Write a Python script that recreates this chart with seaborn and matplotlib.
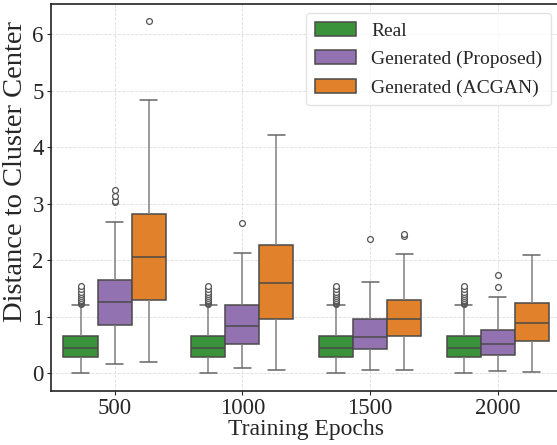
import numpy as np
import pandas as pd
import matplotlib
matplotlib.use("Agg")
import matplotlib.pyplot as plt
import seaborn as sns

epochs = ["500", "1000", "1500", "2000"]
groups = ["Real", "Generated (Proposed)", "Generated (ACGAN)"]
palette = ["#2ca02c", "#9467bd", "#ff7f0e"]

# box summaries: [whisker low, q1, median, q3, whisker high]
real_stats = [
    [0.00, 0.29, 0.445, 0.655, 1.20],
    [0.00, 0.29, 0.445, 0.655, 1.20],
    [0.00, 0.29, 0.445, 0.655, 1.20],
    [0.00, 0.29, 0.445, 0.655, 1.20],
]
proposed_stats = [
    [0.17, 0.854, 1.26, 1.65, 2.67],
    [0.088, 0.518, 0.83, 1.20, 2.13],
    [0.053, 0.435, 0.647, 0.955, 1.61],
    [0.047, 0.318, 0.524, 0.76, 1.344],
]
acgan_stats = [
    [0.19, 1.30, 2.06, 2.81, 4.83],
    [0.053, 0.96, 1.59, 2.27, 4.22],
    [0.058, 0.665, 0.955, 1.29, 2.115],
    [0.018, 0.566, 0.884, 1.238, 2.09],
]
# outliers
real_outliers = [
    [1.22, 1.24, 1.26, 1.28, 1.30, 1.33, 1.36, 1.40, 1.44, 1.49, 1.55],
    [1.22, 1.24, 1.26, 1.28, 1.30, 1.33, 1.36, 1.40, 1.44, 1.49, 1.55],
    [1.22, 1.24, 1.26, 1.28, 1.30, 1.33, 1.36, 1.40, 1.44, 1.49, 1.55],
    [1.22, 1.24, 1.26, 1.28, 1.30, 1.33, 1.36, 1.40, 1.44, 1.49, 1.55],
]
proposed_outliers = [
    [3.02, 3.05, 3.14, 3.24],
    [2.66],
    [2.37],
    [1.53, 1.74],
]
acgan_outliers = [
    [6.23],
    [],
    [2.43, 2.46],
    [],
]


def samples(stats, outliers):
    """Values whose quartiles / whiskers / fliers reproduce the read summary."""
    lo, q1, med, q3, hi = stats
    k = len(outliers) + 1
    return [lo] * k + [q1] * k + [med] * k + [q3] + [hi] + list(outliers)


rows = []
for g, st, out in zip(groups,
                      [real_stats, proposed_stats, acgan_stats],
                      [real_outliers, proposed_outliers, acgan_outliers]):
    for i, ep in enumerate(epochs):
        for v in samples(st[i], out[i]):
            rows.append({"Epoch": ep, "Type": g, "Distance": v})
df = pd.DataFrame(rows)

sns.set_style("ticks")
plt.rcParams["font.family"] = ["Liberation Serif", "DejaVu Serif"]

fig = plt.figure(figsize=(5.57, 4.45), dpi=100)
ax = fig.add_axes([50.7 / 557, 1 - 390.7 / 445, (561.7 - 50.7) / 557, (390.7 - 3.5) / 445])

sns.boxplot(
    data=df, x="Epoch", y="Distance", hue="Type", order=epochs, hue_order=groups,
    palette=palette, saturation=0.75, width=0.8, gap=0, ax=ax, linewidth=1.1,
    boxprops=dict(edgecolor="#4a4a4a"),
    medianprops=dict(color="#4a4a4a"),
    whiskerprops=dict(color="#808080"),
    capprops=dict(color="#666666"),
    flierprops=dict(marker="o", markersize=4.2, markerfacecolor="white",
                    markeredgecolor="#555555", markeredgewidth=0.9),
)

ax.set_xlim(-0.5, 3.5)
ax.set_ylim(-0.31, 6.54)
ax.set_yticks([0, 1, 2, 3, 4, 5, 6])
ax.grid(True, linestyle="--", color="#dddddd", linewidth=0.6)
ax.set_axisbelow(True)
for s in ax.spines.values():
    s.set_color("#222222")
    s.set_linewidth(1.2)
ax.tick_params(axis="both", labelsize=16.5, length=3, width=0.8, pad=2)
ax.set_xlabel("Training Epochs", fontsize=17, labelpad=0)
ax.set_ylabel("Distance to Cluster Center", fontsize=20.5)
ax.yaxis.set_label_coords(-0.045, 0.565)

leg = ax.legend(loc="upper right", bbox_to_anchor=(551 / 557, 1 - 13.3 / 445),
                bbox_transform=fig.transFigure, borderaxespad=0, fontsize=14,
                frameon=True, fancybox=True, framealpha=0.8, edgecolor="#dddddd",
                handlelength=2.1, handleheight=0.72, handletextpad=0.8,
                borderpad=0.45, labelspacing=0.55)

fig.savefig("out.png", dpi=100)
